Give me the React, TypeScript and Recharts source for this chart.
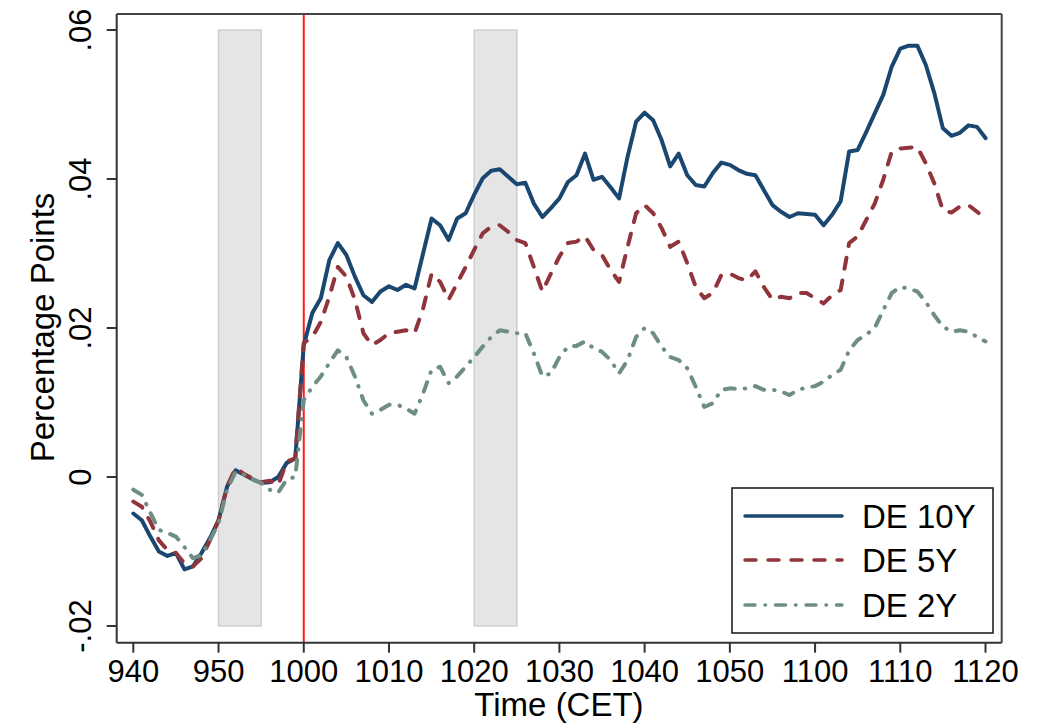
import React from 'react';
import { ComposedChart, Line, XAxis, YAxis, ReferenceArea, ReferenceLine } from 'recharts';

const FONT = '"Liberation Sans", Arial, Helvetica, sans-serif';

// Minute-by-minute yield changes (percentage points), 9:40 to 11:20 CET
const de10y = [
  -0.0049, -0.0058, -0.0080, -0.0100, -0.0106, -0.0102, -0.0124, -0.0120, -0.0102, -0.0082,
  -0.0058, -0.0013, 0.0009, 0.0003, -0.0003, -0.0008, -0.0007, 0.0000, 0.0019, 0.0025,
  0.0177, 0.0220, 0.0240, 0.0291, 0.0314, 0.0298, 0.0269, 0.0244, 0.0235, 0.0249,
  0.0256, 0.0251, 0.0258, 0.0253, 0.0300, 0.0347, 0.0338, 0.0318, 0.0347, 0.0354,
  0.0379, 0.0401, 0.0411, 0.0413, 0.0403, 0.0393, 0.0395, 0.0367, 0.0349, 0.0361,
  0.0374, 0.0396, 0.0405, 0.0434, 0.0399, 0.0403, 0.0389, 0.0374, 0.0430, 0.0477,
  0.0489, 0.0479, 0.0452, 0.0417, 0.0434, 0.0405, 0.0392, 0.0390, 0.0408, 0.0422,
  0.0419, 0.0412, 0.0407, 0.0405, 0.0385, 0.0365, 0.0356, 0.0349, 0.0354, 0.0353,
  0.0352, 0.0338, 0.0352, 0.0370, 0.0437, 0.0439, 0.0463, 0.0488, 0.0513, 0.0551,
  0.0575, 0.0579, 0.0579, 0.0553, 0.0515, 0.0468, 0.0458, 0.0462, 0.0472, 0.0470,
  0.0455,
];

const de5y = [
  -0.0033, -0.0040, -0.0060, -0.0085, -0.0098, -0.0102, -0.0116, -0.0120, -0.0109, -0.0085,
  -0.0058, -0.0013, 0.0012, 0.0004, -0.0002, -0.0007, -0.0005, -0.0011, 0.0021, 0.0025,
  0.0180, 0.0188, 0.0208, 0.0242, 0.0282, 0.0269, 0.0238, 0.0193, 0.0177, 0.0184,
  0.0193, 0.0195, 0.0197, 0.0193, 0.0226, 0.0273, 0.0262, 0.0238, 0.0260, 0.0282,
  0.0305, 0.0327, 0.0336, 0.0338, 0.0329, 0.0318, 0.0314, 0.0282, 0.0249, 0.0273,
  0.0296, 0.0314, 0.0316, 0.0323, 0.0305, 0.0298, 0.0278, 0.0262, 0.0309, 0.0354,
  0.0365, 0.0354, 0.0334, 0.0309, 0.0316, 0.0287, 0.0255, 0.0240, 0.0247, 0.0271,
  0.0273, 0.0267, 0.0264, 0.0276, 0.0255, 0.0238, 0.0242, 0.0240, 0.0247, 0.0247,
  0.0240, 0.0233, 0.0244, 0.0251, 0.0314, 0.0323, 0.0345, 0.0367, 0.0399, 0.0437,
  0.0441, 0.0442, 0.0443, 0.0421, 0.0394, 0.0358, 0.0355, 0.0363, 0.0365, 0.0356,
  0.0347,
];

const de2y = [
  -0.0017, -0.0024, -0.0048, -0.0071, -0.0075, -0.0080, -0.0094, -0.0109, -0.0105, -0.0085,
  -0.0062, -0.0017, 0.0007, 0.0003, -0.0003, -0.0008, -0.0017, -0.0021, -0.0003, 0.0000,
  0.0103, 0.0121, 0.0135, 0.0153, 0.0170, 0.0161, 0.0135, 0.0103, 0.0085, 0.0090,
  0.0097, 0.0097, 0.0092, 0.0085, 0.0112, 0.0144, 0.0148, 0.0126, 0.0135, 0.0148,
  0.0161, 0.0175, 0.0188, 0.0197, 0.0195, 0.0193, 0.0193, 0.0166, 0.0135, 0.0139,
  0.0161, 0.0175, 0.0176, 0.0182, 0.0173, 0.0168, 0.0157, 0.0139, 0.0157, 0.0188,
  0.0200, 0.0193, 0.0175, 0.0161, 0.0157, 0.0146, 0.0121, 0.0094, 0.0099, 0.0117,
  0.0119, 0.0118, 0.0119, 0.0122, 0.0117, 0.0117, 0.0115, 0.0110, 0.0117, 0.0120,
  0.0122, 0.0128, 0.0137, 0.0144, 0.0170, 0.0184, 0.0191, 0.0200, 0.0224, 0.0247,
  0.0255, 0.0253, 0.0249, 0.0235, 0.0217, 0.0202, 0.0195, 0.0197, 0.0195, 0.0188,
  0.0182,
];

// Axis ticks: minutes after 9:40 and their clock labels
const xTicks = [0, 10, 20, 30, 40, 50, 60, 70, 80, 90, 100];
const xTickLabels = ['940', '950', '1000', '1010', '1020', '1030', '1040', '1050', '1100', '1110', '1120'];
const yTicks = [-0.02, 0, 0.02, 0.04, 0.06];
const yTickLabels = ['-.02', '0', '.02', '.04', '.06'];

// Shaded windows (in minutes after 9:40) and the announcement minute
const shadedWindows = [
  [10, 15],
  [40, 45],
];
const announcementMinute = 20;

const seriesNames = ['DE 10Y', 'DE 5Y', 'DE 2Y'];

const X_DOMAIN: [number, number] = [-1.95, 101.9];
const Y_DOMAIN: [number, number] = [-0.02224, 0.06215];

const NAVY = '#1a476f';
const MAROON = '#90353b';
const TEAL = '#6e8e84';
const LINE_W = 4;
const DASH_5Y = '11 12';
const DASH_2Y = '10 10 0.5 10';

const data = de10y.map((v, i) => ({ minute: i, de10y: v, de5y: de5y[i], de2y: de2y[i] }));

const YTick = (props: any) => {
  const { x, y, payload } = props;
  const idx = yTicks.findIndex((t) => Math.abs(t - payload.value) < 1e-9);
  const bx = x - 14;
  return (
    <text
      x={bx}
      y={y}
      transform={`rotate(-90, ${bx}, ${y})`}
      textAnchor="middle"
      fontSize={31}
      fontFamily={FONT}
      fill="#000"
    >
      {idx >= 0 ? yTickLabels[idx] : ''}
    </text>
  );
};

const LegendBox = () => {
  const rows = [
    { name: seriesNames[0], color: NAVY, dash: undefined as string | undefined, ly: 516, ty: 527.5 },
    { name: seriesNames[1], color: MAROON, dash: DASH_5Y, ly: 560, ty: 571.5 },
    { name: seriesNames[2], color: TEAL, dash: DASH_2Y, ly: 605, ty: 616.5 },
  ];
  return (
    <g>
      <rect x={732} y={488} width={261} height={145} fill="#fff" stroke="#222" strokeWidth={1.6} />
      {rows.map((r) => (
        <g key={r.name}>
          <line
            x1={745}
            x2={842}
            y1={r.ly}
            y2={r.ly}
            stroke={r.color}
            strokeWidth={LINE_W - 0.5}
            strokeLinecap="round"
            strokeDasharray={r.dash}
          />
          <text x={862} y={r.ty} fontSize={33} fontFamily={FONT} fill="#000">
            {r.name}
          </text>
        </g>
      ))}
    </g>
  );
};

const Titles = () => (
  <g>
    <text x={559} y={716} textAnchor="middle" fontSize={33} fontFamily={FONT} fill="#000">
      Time (CET)
    </text>
    <text
      x={53.5}
      y={327.5}
      transform="rotate(-90, 53.5, 327.5)"
      textAnchor="middle"
      fontSize={33}
      fontFamily={FONT}
      fill="#000"
    >
      Percentage Points
    </text>
  </g>
);

export default function App() {
  return (
    <div style={{ position: 'absolute', left: 0, top: 0, width: 1043, height: 723, background: '#fff' }}>
      <ComposedChart
        width={1043}
        height={723}
        data={data}
        margin={{ top: 14, right: 41.3, bottom: 20.3, left: 16.7 }}
      >
        <XAxis
          dataKey="minute"
          type="number"
          domain={X_DOMAIN}
          allowDataOverflow
          ticks={xTicks}
          interval={0}
          tickFormatter={(v: number) => xTickLabels[xTicks.indexOf(v)] ?? ''}
          height={60}
          tickSize={10}
          tickMargin={7}
          axisLine={{ stroke: '#333', strokeWidth: 2 }}
          tickLine={{ stroke: '#333', strokeWidth: 2 }}
          tick={{ fontSize: 31, fill: '#000', fontFamily: FONT }}
        />
        <YAxis
          type="number"
          domain={Y_DOMAIN}
          allowDataOverflow
          ticks={yTicks}
          interval={0}
          width={100}
          tickSize={10}
          axisLine={{ stroke: '#333', strokeWidth: 2 }}
          tickLine={{ stroke: '#333', strokeWidth: 2 }}
          tick={<YTick />}
        />
        {shadedWindows.map(([a, b]) => (
          <ReferenceArea
            key={`band-${a}`}
            x1={a}
            x2={b}
            y1={-0.02}
            y2={0.06}
            fill="#e5e5e5"
            fillOpacity={1}
            stroke="#cfcfcf"
            strokeWidth={1.5}
          />
        ))}
        <ReferenceLine x={announcementMinute} stroke="#ff1a1a" strokeWidth={2} />
        <ReferenceLine y={Y_DOMAIN[1]} stroke="#444" strokeWidth={2} />
        <ReferenceLine x={X_DOMAIN[1]} stroke="#444" strokeWidth={2} />
        <Line
          type="linear"
          dataKey="de10y"
          name={seriesNames[0]}
          stroke={NAVY}
          strokeWidth={LINE_W}
          strokeLinejoin="round"
          strokeLinecap="round"
          dot={false}
          activeDot={false}
          isAnimationActive={false}
        />
        <Line
          type="linear"
          dataKey="de5y"
          name={seriesNames[1]}
          stroke={MAROON}
          strokeWidth={LINE_W}
          strokeDasharray={DASH_5Y}
          strokeLinejoin="round"
          strokeLinecap="round"
          dot={false}
          activeDot={false}
          isAnimationActive={false}
        />
        <Line
          type="linear"
          dataKey="de2y"
          name={seriesNames[2]}
          stroke={TEAL}
          strokeWidth={LINE_W}
          strokeDasharray={DASH_2Y}
          strokeLinejoin="round"
          strokeLinecap="round"
          dot={false}
          activeDot={false}
          isAnimationActive={false}
        />
        <LegendBox />
        <Titles />
      </ComposedChart>
    </div>
  );
}
